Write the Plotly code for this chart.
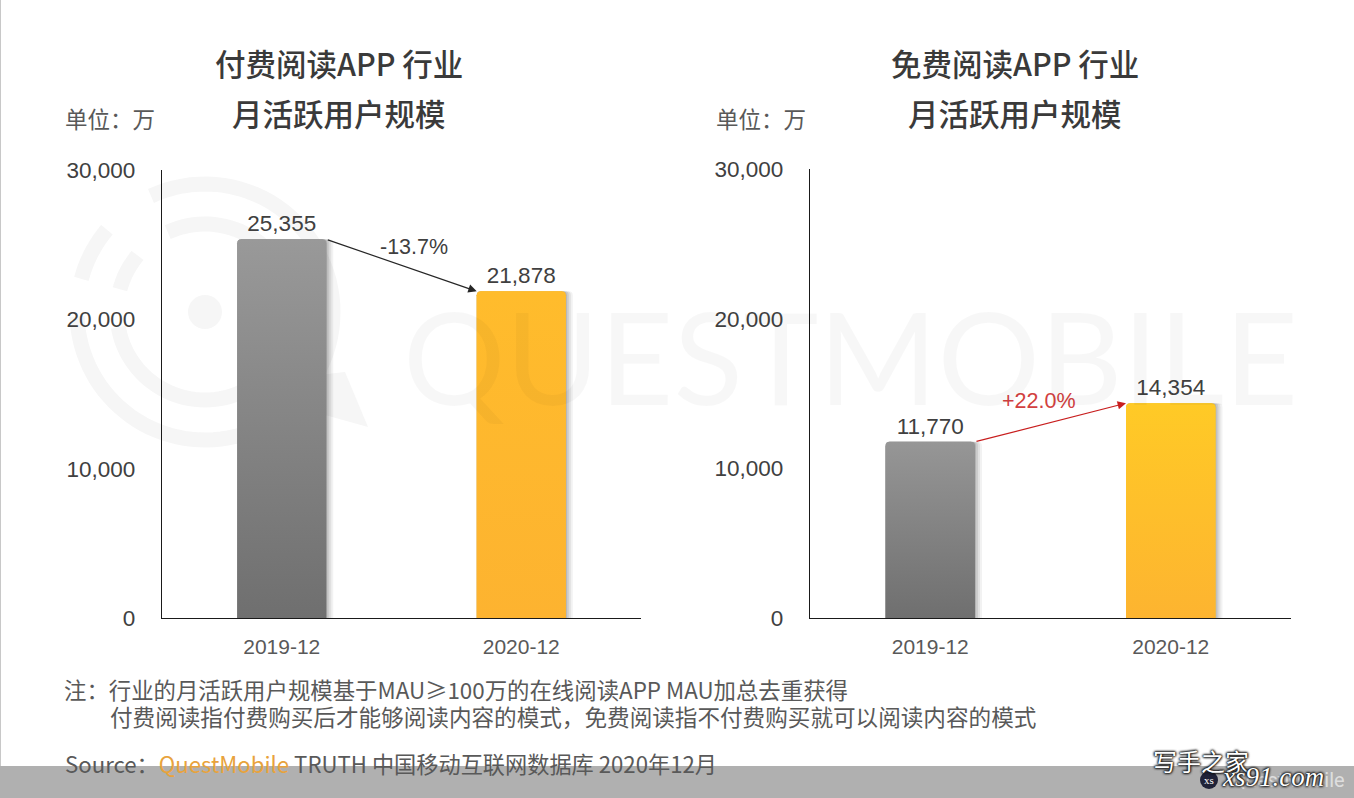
import numpy as np
import plotly.graph_objects as go

W, H = 1354, 798

months = ["2019-12", "2020-12"]
paid_mau = [25355, 21878]
free_mau = [11770, 14354]
paid_change = "-13.7%"
free_change = "+22.0%"
y_ticks = [0, 10000, 20000, 30000]

CN = "Noto Sans CJK SC"
EN = "Liberation Sans"
TEXT = "#595959"
DARK = "#404040"
BAR_W = 0.372
PX = 1 / 240  # one pixel in x units


def fx(p):
    return p / W


def fy(p):
    return 1 - p / H


def label(text, x, y, size, color=TEXT, family=CN, anchor="center", **kw):
    fig.add_annotation(text=text, x=fx(x), y=fy(y), xref="paper", yref="paper", showarrow=False,
                       xanchor=anchor, yanchor="middle", align="left",
                       font=dict(size=size, color=color, family=family, **kw))


def arc(r, a0, a1):
    t = np.radians(np.linspace(a0, a1, 40))
    xs = 205 + r * np.cos(t)
    ys = 312 - r * np.sin(t)
    return "M" + "L".join(f"{fx(a):.4f},{fy(b):.4f}" for a, b in zip(xs, ys))


fig = go.Figure()


def panel(values, xname, yname, top_colors):
    # soft shadow to the right of the bars
    for grow, alpha in [(7, 0.05), (5, 0.07), (3, 0.09), (1, 0.12)]:
        fig.add_bar(x=[0, 1], y=values, xaxis=xname, yaxis=yname, width=BAR_W + grow * PX,
                    offset=-BAR_W / 2, marker=dict(color=f"rgba(0,0,0,{alpha})", line_width=0),
                    hoverinfo="skip", showlegend=False)
    fig.add_bar(x=[0, 1], y=values, xaxis=xname, yaxis=yname, width=BAR_W, showlegend=False,
                marker=dict(color=[c[0] for c in top_colors], line_width=0),
                text=[f"{v:,}" for v in values], textposition="outside", cliponaxis=False,
                textfont=dict(size=22.5, color=DARK, family=EN))
    # gradient faces, cut at the corners like the rounded bars
    for i, v in enumerate(values):
        l, r = i - BAR_W / 2, i + BAR_W / 2
        cx, cy = 4 * PX, 270
        fig.add_scatter(x=[l, l, l + cx, r - cx, r, r], y=[0, v - cy, v, v, v - cy, 0],
                        xaxis=xname, yaxis=yname, mode="none", fill="toself", showlegend=False,
                        hoverinfo="skip",
                        fillgradient=dict(type="vertical", start=v, stop=0,
                                          colorscale=[[0, top_colors[i][0]], [1, top_colors[i][1]]]))


panel(paid_mau, "x", "y", [("#999999", "#6f6f6f"), ("#ffbc2c", "#fdb330")])
panel(free_mau, "x2", "y2", [("#969696", "#6f6f6f"), ("#ffca26", "#fdb430")])

axis_x = dict(range=[-0.5, 1.5], tickvals=[0, 1], ticktext=months, showgrid=False, zeroline=False,
              showline=True, linecolor="#1a1a1a", linewidth=1.3, ticks="", ticklabelstandoff=10,
              tickfont=dict(size=21, color=TEXT, family=EN))
axis_y = dict(range=[0, 30000], tickvals=y_ticks, tickformat=",", showgrid=False, zeroline=False,
              showline=True, linecolor="#1a1a1a", linewidth=1.3, ticks="", ticklabelstandoff=21,
              tickfont=dict(size=22.5, color=DARK, family=EN))

fig.update_layout(
    width=W, height=H, margin=dict(l=0, r=0, t=0, b=0, autoexpand=False),
    paper_bgcolor="white", plot_bgcolor="rgba(0,0,0,0)", barmode="overlay", showlegend=False,
    barcornerradius=4,
    xaxis=dict(axis_x, domain=[fx(162), fx(641)], anchor="y"),
    yaxis=dict(axis_y, domain=[fy(618), fy(170)], anchor="x"),
    xaxis2=dict(axis_x, domain=[fx(810), fx(1291)], anchor="y2"),
    yaxis2=dict(axis_y, domain=[fy(618), fy(169)], anchor="x2"),
)

# change arrows between the bar tops
for vals, xn, yn, col in [(paid_mau, "x", "y", "#262626"), (free_mau, "x2", "y2", "#c81e1e")]:
    fig.add_annotation(x=1 - BAR_W / 2, y=vals[1], ax=BAR_W / 2, ay=vals[0], xref=xn, yref=yn,
                       axref=xn, ayref=yn, text="", showarrow=True, arrowhead=2, arrowsize=1.4,
                       arrowwidth=1.2, arrowcolor=col, standoff=0, startstandoff=0)

label(paid_change, 414, 247, 21.5, DARK, EN)
label(free_change, 1039, 401, 21.5, "#d24040", EN)

# titles
label("付费阅读APP 行业", 339, 63, 30.5, "#3a3a3a", weight=500)
label("月活跃用户规模", 339, 113, 30.5, "#3a3a3a", weight=500)
label("免费阅读APP 行业", 1015, 63, 30.5, "#3a3a3a", weight=500)
label("月活跃用户规模", 1015, 113, 30.5, "#3a3a3a", weight=500)
label("单位：万", 63, 118, 22.5, anchor="left")
label("单位：万", 714, 118, 22.5, anchor="left")

# notes and source
label("注：行业的月活跃用户规模基于MAU≥100万的在线阅读APP MAU加总去重获得", 62, 689, 22.4, anchor="left")
label("付费阅读指付费购买后才能够阅读内容的模式，免费阅读指不付费购买就可以阅读内容的模式", 108, 716, 22.6, anchor="left")
label('Source：<span style="color:#e8a33c">QuestMobile</span> TRUTH 中国移动互联网数据库 2020年12月',
      63, 763, 22.2, anchor="left")

# QuestMobile watermark
mark = "#f6f6f6"
for r, a0, a1 in [(128, 115, -30), (128, 182, 310), (128, 140, 165), (88, 115, -20), (88, 190, 320), (88, 140, 165)]:
    fig.add_shape(type="path", path=arc(r, a0, a1), xref="paper", yref="paper", layer="below",
                  line=dict(color=mark, width=15))
fig.add_shape(type="circle", x0=fx(188), x1=fx(222), y0=fy(329), y1=fy(295), xref="paper", yref="paper",
              layer="below", fillcolor=mark, line_width=0)
fig.add_shape(type="path", path=f"M{fx(318)},{fy(375)}L{fx(345)},{fy(372)}L{fx(368)},{fy(427)}L{fx(325)},{fy(415)}Z",
              xref="paper", yref="paper", layer="below", fillcolor=mark, line_width=0)
label("QUESTMOBILE", 850, 355, 128, "rgba(0,0,0,0.03)", "Lato", weight=400)

# screenshot band and site stamp
fig.add_shape(type="rect", x0=0, x1=1, y0=0, y1=fy(766), xref="paper", yref="paper", layer="above",
              fillcolor="#b0b0b0", line_width=0)
fig.add_shape(type="line", x0=0, x1=0, y0=fy(766), y1=1, xref="paper", yref="paper", layer="above",
              line=dict(color="#c8c8c8", width=2))
fig.add_shape(type="circle", x0=fx(1200), x1=fx(1218), y0=fy(789), y1=fy(771), xref="paper", yref="paper",
              layer="above", fillcolor="#1f2238", line_width=0)
label("xs", 1209, 780, 11, "white", "Liberation Serif")
label("QuestMobile", 1347, 780, 20, "rgba(255,255,255,0.6)", "Roboto", anchor="right")
stamp = "0 0 3px #111, 0 0 3px #111, 0 0 2px #111, 0 0 2px #111"
label("写手之家", 1201, 760, 24, "white", shadow=stamp)
label("xs91.com", 1273, 777, 27, "white", "Liberation Serif", style="italic", shadow=stamp)

fig.write_html("out.html", config=dict(displayModeBar=False),
               post_script="document.body.style.margin='0';document.body.style.overflow='hidden';")
